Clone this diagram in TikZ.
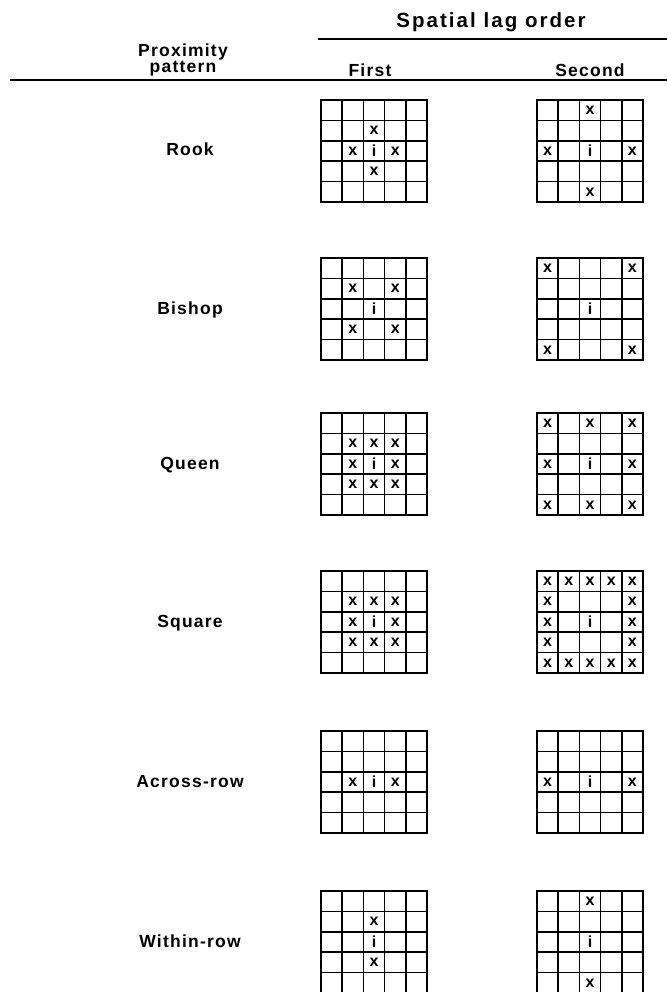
\documentclass[tikz,border=0pt]{standalone}
\usepackage{fontspec}
\newfontfamily\lettering[LetterSpace=7]{Liberation Sans}
\newfontfamily\headlettering[LetterSpace=10]{Liberation Sans}
\usetikzlibrary{positioning}

\tikzset{
  gridline/.style={line width=1.6pt},
  rulebar/.style={line width=1.5pt},
  headtext/.style={font=\headlettering\bfseries\fontsize{20.5}{22}\selectfont,
    inner sep=0pt},
  coltext/.style={font=\lettering\bfseries\fontsize{17.5}{18}\selectfont,
    inner sep=0pt},
  rowlabel/.style={font=\lettering\bfseries\fontsize{17.5}{16}\selectfont,
    inner sep=0pt},
  cellsym/.style={font=\lettering\bfseries\fontsize{16}{16}\selectfont,
    inner sep=0pt},
  pics/laggrid/.style={code={
      \draw[gridline] (0,0) rectangle (106,102);
      \foreach \k in {1,...,4}{%
        \draw[gridline] (21.2*\k,0) -- (21.2*\k,102);
        \draw[gridline] (0,20.4*\k) -- (106,20.4*\k);}
      \foreach \cc in {1,...,5}{%
        \foreach \rr in {1,...,5}{%
          \coordinate (-\cc\rr) at (21.2*\cc-10.6,20.4*\rr-10.2);}}
  }}
}

% one 5x5 panel: name, left, top, list of col/row/symbol
\newcommand{\lagpanel}[4]{%
  \pic (#1) at (#2,#3) {laggrid};
  \foreach \cc/\rr/\ss in {#4}{%
    \node[cellsym] (#1-s\cc\rr) at (#1-\cc\rr) {\ss};}
}

\begin{document}
\begin{tikzpicture}[x=1pt,y=-1pt]
  \useasboundingbox (0,0) rectangle (667,992);

  % header
  \node[headtext, anchor=base] (lagorder) at (491,28) {Spatial lag order};
  \draw[rulebar] (318,39) -- (667,39);
  \node[rowlabel, align=center] (proximity) at (183,60) {Proximity\\pattern};
  \node[coltext, anchor=base] (first) at (370,77) {First};
  \node[coltext, anchor=base] (second) at (590,77) {Second};
  \draw[rulebar] (10,80) -- (667,80);

  % Rook
  \node[rowlabel, anchor=base] (rook) at (190,156) {Rook};
  \lagpanel{rook1}{321}{100}{3/2/x,2/3/x,3/3/i,4/3/x,3/4/x}
  \lagpanel{rook2}{537}{100}{3/1/x,1/3/x,3/3/i,5/3/x,3/5/x}

  % Bishop
  \node[rowlabel, anchor=base] (bishop) at (190,314) {Bishop};
  \lagpanel{bishop1}{321}{258}{2/2/x,4/2/x,3/3/i,2/4/x,4/4/x}
  \lagpanel{bishop2}{537}{258}{1/1/x,5/1/x,3/3/i,1/5/x,5/5/x}

  % Queen
  \node[rowlabel, anchor=base] (queen) at (190,469) {Queen};
  \lagpanel{queen1}{321}{413}{2/2/x,3/2/x,4/2/x,2/3/x,3/3/i,4/3/x,2/4/x,3/4/x,4/4/x}
  \lagpanel{queen2}{537}{413}{1/1/x,3/1/x,5/1/x,1/3/x,3/3/i,5/3/x,1/5/x,3/5/x,5/5/x}

  % Square
  \node[rowlabel, anchor=base] (square) at (190,627) {Square};
  \lagpanel{square1}{321}{571}{2/2/x,3/2/x,4/2/x,2/3/x,3/3/i,4/3/x,2/4/x,3/4/x,4/4/x}
  \lagpanel{square2}{537}{571}{1/1/x,2/1/x,3/1/x,4/1/x,5/1/x,1/2/x,5/2/x,1/3/x,
    3/3/i,5/3/x,1/4/x,5/4/x,1/5/x,2/5/x,3/5/x,4/5/x,5/5/x}

  % Across-row
  \node[rowlabel, anchor=base] (acrossrow) at (190,787) {Across-row};
  \lagpanel{across1}{321}{731}{2/3/x,3/3/i,4/3/x}
  \lagpanel{across2}{537}{731}{1/3/x,3/3/i,5/3/x}

  % Within-row
  \node[rowlabel, anchor=base] (withinrow) at (190,947) {Within-row};
  \lagpanel{within1}{321}{891}{3/2/x,3/3/i,3/4/x}
  \lagpanel{within2}{537}{891}{3/1/x,3/3/i,3/5/x}
\end{tikzpicture}
\end{document}
